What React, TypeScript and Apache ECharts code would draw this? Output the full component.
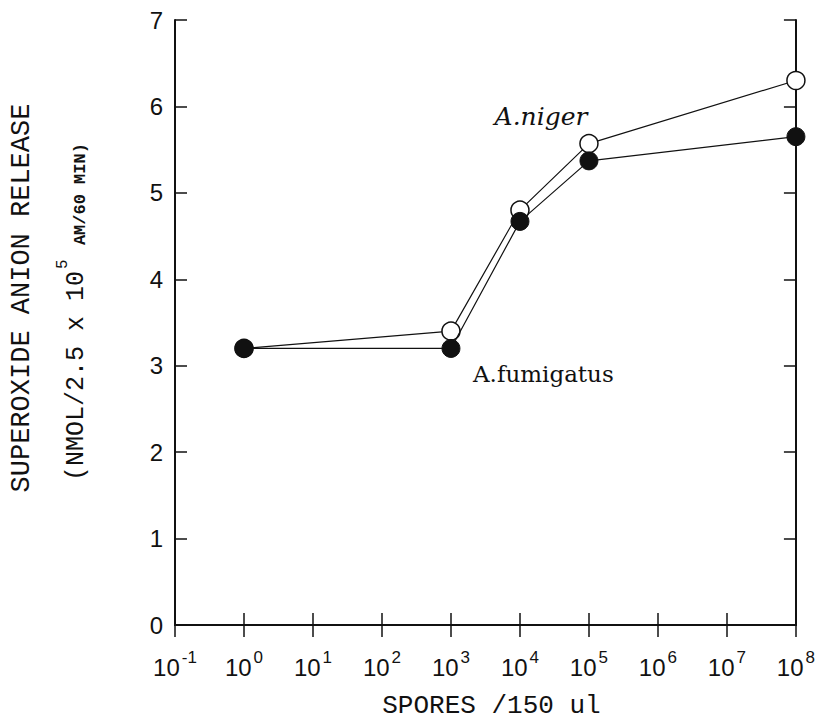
import React, { useEffect, useRef } from "react";
import * as echarts from "echarts";

const spores = [1, 1e3, 1e4, 1e5, 1e8];
const nigerValues = [3.2, 3.4, 4.8, 5.57, 6.3];
const fumigatusValues = [3.2, 3.2, 4.67, 5.37, 5.65];
const xMin = 0.1;
const xMax = 1e8;
const yMin = 0;
const yMax = 7;

const MONO = "'Liberation Mono', 'Courier New', monospace";
const SANS = "'Liberation Sans', Arial, sans-serif";
const SERIF = "'DejaVu Serif', 'Liberation Serif', serif";

export default function App() {
  const ref = useRef<HTMLDivElement>(null);
  useEffect(() => {
    if (!ref.current) return;
    const chart = echarts.init(ref.current, undefined, { renderer: "svg" });
    const tickStyle = { show: true, inside: true, length: 12, lineStyle: { color: "#111", width: 1.5 } };
    const lineStyle = { show: true, lineStyle: { color: "#111", width: 2 } };
    const xBase = {
      type: "log" as const,
      logBase: 10,
      min: xMin,
      max: xMax,
      splitNumber: 9,
      splitLine: { show: false },
      axisLine: lineStyle,
      axisTick: tickStyle,
    };
    const yBase = {
      type: "value" as const,
      min: yMin,
      max: yMax,
      interval: 1,
      splitLine: { show: false },
      axisLine: lineStyle,
      axisTick: tickStyle,
    };
    chart.setOption({
      animation: false,
      backgroundColor: "#ffffff",
      grid: { left: 175, right: 22, top: 20, bottom: 90, containLabel: false },
      xAxis: [
        {
          ...xBase,
          position: "bottom",
          name: "SPORES /150 ul",
          nameLocation: "middle",
          nameGap: 68,
          nameTextStyle: { fontFamily: MONO, fontSize: 26, color: "#111", padding: [0, 0, 0, 12] },
          axisLabel: {
            margin: 24,
            formatter: (v: number) => `{b|10}{s|${Math.round(Math.log10(v))}}`,
            rich: {
              b: { fontFamily: SANS, fontSize: 24, color: "#111", lineHeight: 30, verticalAlign: "bottom" },
              s: { fontFamily: SANS, fontSize: 17, color: "#111", lineHeight: 30, verticalAlign: "top", padding: [0, 0, 0, 2] },
            },
          },
        },
        { ...xBase, position: "top", axisLabel: { show: false } },
      ],
      yAxis: [
        {
          ...yBase,
          position: "left",
          axisLabel: { margin: 12, fontFamily: SANS, fontSize: 24, color: "#111" },
        },
        { ...yBase, position: "right", axisLabel: { show: false } },
      ],
      graphic: [
        {
          type: "text",
          x: 22,
          y: 298,
          rotation: Math.PI / 2,
          style: {
            text: "SUPEROXIDE ANION RELEASE",
            fontFamily: MONO,
            fontSize: 27,
            fill: "#111",
            align: "center",
            verticalAlign: "middle",
          },
        },
        {
          type: "text",
          x: 72,
          y: 312,
          rotation: Math.PI / 2,
          style: {
            text: "{m|(NMOL/2.5 x 10}{p|5}{n| AM/60 MIN)}",
            align: "center",
            verticalAlign: "middle",
            rich: {
              m: { fontFamily: MONO, fontSize: 25, fill: "#111", lineHeight: 34, verticalAlign: "bottom" },
              p: { fontFamily: MONO, fontSize: 16, fill: "#111", lineHeight: 34, verticalAlign: "top", padding: [0, 4, 0, 2] },
              n: { fontFamily: MONO, fontSize: 17, fontWeight: "bold", fill: "#111", lineHeight: 34, verticalAlign: "bottom" },
            },
          },
        },
        {
          type: "text",
          x: 541,
          y: 116,
          style: {
            text: "A.niger",
            fontFamily: SERIF,
            fontStyle: "italic",
            fontSize: 25,
            fill: "#111",
            align: "center",
            verticalAlign: "middle",
          },
        },
        {
          type: "text",
          x: 473,
          y: 374,
          style: {
            text: "A.fumigatus",
            fontFamily: SERIF,
            fontSize: 23,
            fill: "#111",
            align: "left",
            verticalAlign: "middle",
          },
        },
      ],
      series: [
        {
          name: "A.niger",
          type: "line",
          data: spores.map((s, i) => [s, nigerValues[i]]),
          symbol: "circle",
          symbolSize: 18,
          clip: false,
          z: 2,
          lineStyle: { color: "#111", width: 1.2 },
          itemStyle: { color: "#ffffff", borderColor: "#111", borderWidth: 1.5 },
        },
        {
          name: "A.fumigatus",
          type: "line",
          data: spores.map((s, i) => [s, fumigatusValues[i]]),
          symbol: "circle",
          symbolSize: 18,
          clip: false,
          z: 3,
          lineStyle: { color: "#111", width: 1.2 },
          itemStyle: { color: "#111", borderColor: "#111", borderWidth: 1 },
        },
      ],
    });
    return () => chart.dispose();
  }, []);
  return (
    <div
      ref={ref}
      style={{ position: "absolute", left: 0, top: 0, width: 818, height: 724, background: "#fff" }}
    />
  );
}
